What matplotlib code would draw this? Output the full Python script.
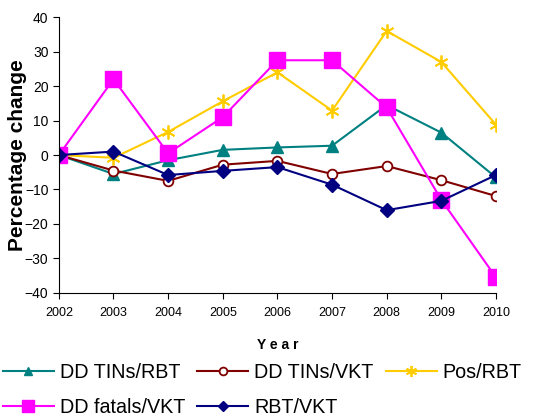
import numpy as np
import matplotlib
matplotlib.use('Agg')
import matplotlib.pyplot as plt

plt.rcParams['font.family'] = ['Liberation Sans', 'DejaVu Sans']

years = ['2002', '2003', '2004', '2005', '2006', '2007', '2008', '2009', '2010']
tins_rbt = [0, -5.5, -1.5, 1.5, 2.2, 2.7, 14.5, 6.5, -6.5]
tins_vkt = [0, -4.5, -7.5, -2.8, -1.7, -5.5, -3.2, -7.3, -11.9]
pos_rbt = [0, -0.8, 6.7, 15.6, 24.0, 12.9, 36.0, 27.0, 8.8]
fatals_vkt = [0, 22.0, 0.5, 11.0, 27.5, 27.5, 13.8, -13.0, -35.5]
rbt_vkt = [0, 1.0, -5.8, -4.6, -3.5, -8.6, -16.0, -13.3, -5.8]

x = np.arange(len(years))

fig = plt.figure(figsize=(5.45, 4.19), dpi=100)
ax = fig.add_axes([0.108, 0.301, 0.802, 0.658])

l1, = ax.plot(x, tins_rbt, color='#008080', marker='^', markersize=8, lw=1.5, label='DD TINs/RBT')
l2, = ax.plot(x, tins_vkt, color='#800000', marker='o', markersize=7, mfc='white', mew=1.3, lw=1.5, label='DD TINs/VKT')
l3, = ax.plot(x, pos_rbt, color='#FFCC00', marker=(6, 2, 0), markersize=10, mew=1.3, lw=1.5, label='Pos/RBT')
l4, = ax.plot(x, fatals_vkt, color='#FF00FF', marker='s', markersize=11, lw=1.5, label='DD fatals/VKT')
l5, = ax.plot(x, rbt_vkt, color='#000080', marker='D', markersize=7, lw=1.5, label='RBT/VKT')

ax.set_xlim(0, len(years) - 1)
ax.set_ylim(-40, 40)
ax.set_xticks(x)
ax.set_xticklabels(years, fontsize=9)
ax.set_yticks(np.arange(-40, 41, 10))
ax.tick_params(axis='y', labelsize=10, length=4)
ax.tick_params(axis='x', length=4, pad=6)
for s in ['top', 'right']:
    ax.spines[s].set_visible(False)
ax.set_ylabel('Percentage change', fontsize=15, fontweight='bold', labelpad=-1.5)
ax.set_xlabel('Y e a r', fontsize=10, fontweight='bold', labelpad=14)

# row-wise order for the legend
handles = [l1, l4, l2, l5, l3]
ax.legend(handles, [h.get_label() for h in handles], loc='upper left',
          bbox_to_anchor=(0.005, 1 - 363 / 419), bbox_transform=fig.transFigure,
          ncol=3, frameon=False, fontsize=14.2, handlelength=2.6, columnspacing=0.6,
          handletextpad=0.3, borderaxespad=0, borderpad=0, labelspacing=0.8,
          markerscale=0.8)

fig.savefig('out.png', dpi=100)
